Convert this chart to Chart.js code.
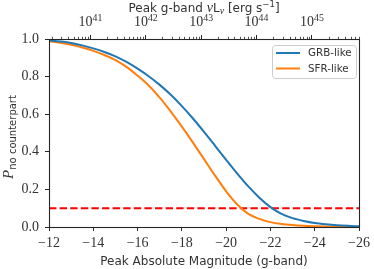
<!DOCTYPE html>
<html>
<head>
<meta charset="utf-8">
<script src="https://cdn.jsdelivr.net/npm/chart.js@4.4.1/dist/chart.umd.min.js"></script>
<style>
  html, body { margin: 0; padding: 0; background: #ffffff; }
  #wrap { width: 374px; height: 269px; }
</style>
</head>
<body>
<div id="wrap"><canvas id="c" width="374" height="269"></canvas></div>
<script>
// ---- data ----
const magnitudes = [-12, -12.5, -13, -13.5, -14, -14.5, -15, -15.5, -16, -16.5, -17, -17.5, -18, -18.5, -19, -19.5, -20, -20.5, -21, -21.5, -22, -22.5, -23, -23.5, -24, -24.5, -25, -25.5, -26];
const grbLike = [0.993, 0.987, 0.979, 0.966, 0.950, 0.931, 0.908, 0.878, 0.842, 0.802, 0.756, 0.703, 0.643, 0.577, 0.506, 0.432, 0.357, 0.284, 0.216, 0.156, 0.106, 0.070, 0.047, 0.032, 0.021, 0.014, 0.009, 0.006, 0.004];
const sfrLike = [0.988, 0.980, 0.969, 0.955, 0.937, 0.915, 0.888, 0.852, 0.805, 0.753, 0.688, 0.614, 0.534, 0.449, 0.361, 0.273, 0.190, 0.120, 0.070, 0.043, 0.026, 0.016, 0.010, 0.006, 0.0035, 0.002, 0.001, 0.0005, 0.0];
const thresholdMags = [-12, -26];
const thresholdValues = [0.1, 0.1];
const seriesNames = ['GRB-like', 'SFR-like'];
const xTickValues = [-12, -14, -16, -18, -20, -22, -24, -26];
const yTickValues = [0, 0.2, 0.4, 0.6, 0.8, 1.0];
const lumExponents = [41, 42, 43, 44, 45];
// top-axis conversion: 10^41 erg/s sits at M = -13.87, 2.5 mag per decade
const MAG_AT_1E41 = -13.87;
const MAG_PER_DEX = 2.5;
const magFromLogL = (logL) => MAG_AT_1E41 - MAG_PER_DEX * (logL - 41);

const TXT = '#333333';
const SPINE = '#262626';
const fmtMinus = (v) => (v < 0 ? '\u2212' + Math.abs(v) : String(v));

const toXY = (xs, ys) => xs.map((x, i) => ({ x: x, y: ys[i] }));

// draw a multi-font text run
function drawRun(ctx, parts, x, y) {
  let cx = x;
  for (const p of parts) {
    ctx.font = p.f;
    ctx.fillText(p.t, cx, y + (p.dy || 0));
    cx += ctx.measureText(p.t).width;
  }
}
function runWidth(ctx, parts) {
  let w = 0;
  for (const p of parts) { ctx.font = p.f; w += ctx.measureText(p.t).width; }
  return w;
}

const decorPlugin = {
  id: 'decor',
  afterDatasetsDraw(chart) {
    const ctx = chart.ctx;
    const a = chart.chartArea;
    const xs = chart.scales.x2;
    ctx.save();
    // frame (spines)
    ctx.strokeStyle = SPINE;
    ctx.lineWidth = 1.1;
    ctx.strokeRect(Math.round(a.left) + 0.5, Math.round(a.top) + 0.5,
                   Math.round(a.right) - Math.round(a.left), Math.round(a.bottom) - Math.round(a.top));
    // minor log ticks of the top axis
    ctx.lineWidth = 0.8;
    ctx.beginPath();
    for (let d = 40; d <= 45; d++) {
      for (let k = 2; k <= 9; k++) {
        const m = magFromLogL(d + Math.log10(k));
        if (m > -12 || m < -26) continue;
        const px = Math.round(xs.getPixelForValue(m)) + 0.5;
        ctx.moveTo(px, a.top);
        ctx.lineTo(px, a.top - 2.2);
      }
    }
    ctx.stroke();

    // legend box
    const lx = 272, ly = 45, lw = 84, lh = 33;
    ctx.beginPath();
    ctx.roundRect(lx + 0.5, ly + 0.5, lw, lh, 3);
    ctx.fillStyle = 'rgba(255,255,255,0.8)';
    ctx.fill();
    ctx.strokeStyle = '#cccccc';
    ctx.lineWidth = 1;
    ctx.stroke();
    chart.data.datasets.slice(0, 2).forEach((ds, i) => {
      const yy = ly + 8 + i * 15.5;
      ctx.strokeStyle = ds.borderColor;
      ctx.lineWidth = 2;
      ctx.beginPath();
      ctx.moveTo(lx + 4, yy);
      ctx.lineTo(lx + 28, yy);
      ctx.stroke();
      ctx.fillStyle = TXT;
      ctx.font = '10.3px "DejaVu Sans"';
      ctx.textBaseline = 'middle';
      ctx.textAlign = 'left';
      ctx.fillText(ds.label, lx + 36, yy + 0.5);
    });
    ctx.restore();
  },
  afterDraw(chart) {
    const ctx = chart.ctx;
    const a = chart.chartArea;
    const xs = chart.scales.x2;
    ctx.save();
    ctx.fillStyle = TXT;
    ctx.textBaseline = 'alphabetic';
    ctx.textAlign = 'left';

    // top axis tick labels 10^N
    lumExponents.forEach((e) => {
      const px = xs.getPixelForValue(magFromLogL(e));
      const parts = [
        { t: '10', f: '14px "Liberation Serif"' },
        { t: String(e), f: '9.8px "Liberation Serif"', dy: -5.5 }
      ];
      const w = runWidth(ctx, parts);
      drawRun(ctx, parts, px - w / 2, 26);
    });

    // top axis title
    const sans = '12px "DejaVu Sans"';
    const topParts = [
      { t: 'Peak g-band ', f: sans },
      { t: '\u03BD', f: 'italic 14px "Liberation Serif"' },
      { t: 'L', f: sans },
      { t: '\u03BD', f: 'italic 10px "Liberation Serif"', dy: 2.5 },
      { t: ' [erg s', f: sans },
      { t: '\u22121', f: '8.5px "DejaVu Sans"', dy: -4.5 },
      { t: ']', f: sans }
    ];
    const tw = runWidth(ctx, topParts);
    drawRun(ctx, topParts, (a.left + a.right) / 2 - tw / 2, 11.5);

    // y axis title (rotated)
    const yParts = [
      { t: 'P', f: 'italic 15px "Liberation Serif"' },
      { t: 'no counterpart', f: '10px "DejaVu Sans"', dy: 3 }
    ];
    const yw = runWidth(ctx, yParts);
    ctx.translate(12.5, 137);
    ctx.rotate(-Math.PI / 2);
    drawRun(ctx, yParts, -yw / 2, 0);
    ctx.restore();
  }
};

new Chart(document.getElementById('c'), {
  type: 'line',
  data: {
    datasets: [
      { label: seriesNames[0], data: toXY(magnitudes, grbLike), borderColor: '#1f77b4', borderWidth: 2,
        pointRadius: 0, cubicInterpolationMode: 'monotone', fill: false },
      { label: seriesNames[1], data: toXY(magnitudes, sfrLike), borderColor: '#ff7f0e', borderWidth: 2,
        pointRadius: 0, cubicInterpolationMode: 'monotone', fill: false },
      { label: 'threshold', data: toXY(thresholdMags, thresholdValues), borderColor: '#ff0000', borderWidth: 2,
        borderDash: [7.4, 3.2], pointRadius: 0, fill: false }
    ]
  },
  options: {
    responsive: false,
    devicePixelRatio: 1,
    animation: false,
    layout: { padding: { left: 0, right: 13, top: 0, bottom: 0 } },
    plugins: { legend: { display: false }, tooltip: { enabled: false } },
    scales: {
      x: {
        type: 'linear', position: 'bottom', min: -26, max: -12, reverse: true,
        afterBuildTicks: (s) => { s.ticks = xTickValues.map(v => ({ value: v })); },
        afterFit: (s) => { s.height = 42; },
        ticks: { callback: (v) => fmtMinus(v), font: { family: 'Liberation Serif', size: 14 }, color: TXT,
                 padding: 4, maxRotation: 0, autoSkip: false },
        grid: { drawOnChartArea: false, tickLength: 4, tickColor: SPINE, tickWidth: 1 },
        border: { color: SPINE, width: 1 },
        title: { display: true, text: 'Peak Absolute Magnitude (g-band)', color: TXT,
                 font: { family: 'DejaVu Sans', size: 12 }, padding: { top: 0, bottom: 0 } }
      },
      x2: {
        type: 'linear', position: 'top', min: -26, max: -12, reverse: true,
        afterBuildTicks: (s) => { s.ticks = lumExponents.map(e => ({ value: magFromLogL(e) })); },
        afterFit: (s) => { s.height = 39; },
        ticks: { display: false },
        grid: { drawOnChartArea: false, tickLength: 4, tickColor: SPINE, tickWidth: 1 },
        border: { color: SPINE, width: 1 }
      },
      y: {
        type: 'linear', position: 'left', min: 0, max: 1,
        afterBuildTicks: (s) => { s.ticks = yTickValues.map(v => ({ value: v })); },
        afterFit: (s) => { s.width = 49; },
        ticks: { callback: (v) => v.toFixed(1), font: { family: 'Liberation Serif', size: 14 }, color: TXT,
                 padding: 6 },
        grid: { drawOnChartArea: false, tickLength: 4, tickColor: SPINE, tickWidth: 1 },
        border: { color: SPINE, width: 1 }
      }
    }
  },
  plugins: [decorPlugin]
});
</script>
</body>
</html>
